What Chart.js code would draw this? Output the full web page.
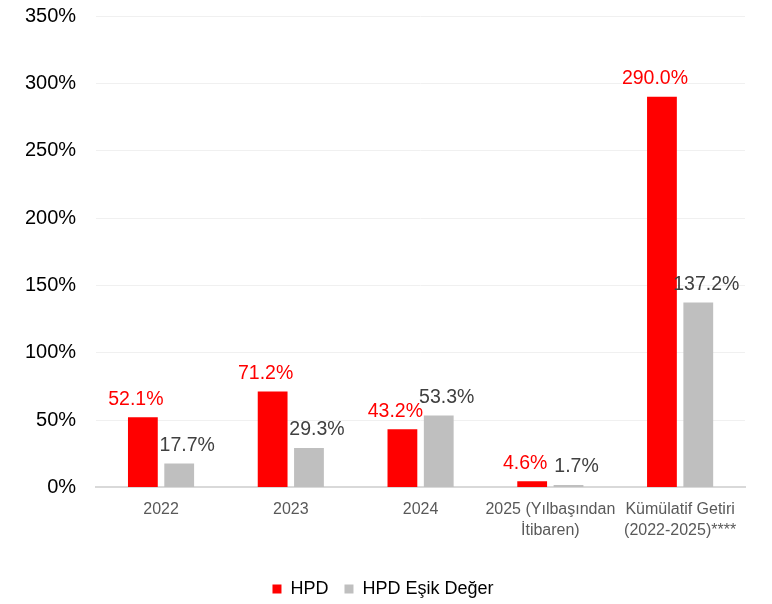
<!DOCTYPE html>
<html lang="tr">
<head>
    <meta charset="UTF-8">
    <title>HPD Getiri</title>
    <script src="https://cdn.jsdelivr.net/npm/chart.js"></script>
    <style>
        body { margin: 0; background: #ffffff; }
        .chart-container { width: 772px; height: 604px; }
    </style>
</head>
<body>
    <div class="chart-container">
        <canvas id="returnChart"></canvas>
    </div>

    <script>
        // Data
        const categories = ['2022', '2023', '2024', ['2025 (Yılbaşından', 'İtibaren)'], ['Kümülatif Getiri', '(2022-2025)****']];
        const hpdValues = [52.1, 71.2, 43.2, 4.6, 290.0];
        const thresholdValues = [17.7, 29.3, 53.3, 1.7, 137.2];

        const fontFamily = '"Liberation Sans", Arial, sans-serif';

        // Draws value labels above each bar, red ones nudged left, grey ones right
        const valueLabels = {
            id: 'valueLabels',
            afterDatasetsDraw(chart) {
                const ctx = chart.ctx;
                ctx.save();
                ctx.font = '19.5px ' + fontFamily;
                ctx.textAlign = 'center';
                ctx.textBaseline = 'middle';
                chart.data.datasets.forEach((ds, i) => {
                    const meta = chart.getDatasetMeta(i);
                    ctx.fillStyle = i === 0 ? '#ff0000' : '#404040';
                    const shift = i === 0 ? -7 : 8;
                    meta.data.forEach((bar, j) => {
                        ctx.fillText(ds.data[j].toFixed(1) + '%', bar.x + shift, bar.y - 18);
                    });
                });
                ctx.restore();
            }
        };

        new Chart(document.getElementById('returnChart'), {
            type: 'bar',
            data: {
                labels: categories,
                datasets: [
                    {
                        label: 'HPD',
                        data: hpdValues,
                        backgroundColor: '#ff0000',
                        barPercentage: 0.82,
                        categoryPercentage: 0.56
                    },
                    {
                        label: 'HPD Eşik Değer',
                        data: thresholdValues,
                        backgroundColor: '#bfbfbf',
                        barPercentage: 0.82,
                        categoryPercentage: 0.56
                    }
                ]
            },
            options: {
                responsive: true,
                maintainAspectRatio: false,
                animation: false,
                layout: { padding: { top: 4, right: 27, left: 21, bottom: -4 } },
                plugins: {
                    legend: {
                        position: 'bottom',
                        labels: {
                            boxWidth: 9,
                            boxHeight: 9,
                            color: '#000000',
                            padding: 16,
                            font: { size: 18, family: fontFamily }
                        }
                    },
                    tooltip: { enabled: false }
                },
                scales: {
                    x: {
                        grid: { display: false },
                        border: { color: '#d9d9d9', width: 2 },
                        afterFit: scale => { scale.height += 19; },
                        ticks: {
                            color: '#595959',
                            padding: 4,
                            maxRotation: 0,
                            autoSkip: false,
                            font: { size: 16, family: fontFamily, lineHeight: 1.3 }
                        }
                    },
                    y: {
                        min: 0,
                        max: 350,
                        grid: { color: '#f0f0f0', drawTicks: true, tickLength: 16, tickColor: 'rgba(0,0,0,0)' },
                        border: { display: false },
                        ticks: {
                            stepSize: 50,
                            padding: 4,
                            color: '#000000',
                            font: { size: 20, family: fontFamily },
                            callback: v => v + '%'
                        }
                    }
                }
            },
            plugins: [valueLabels]
        });
    </script>
</body>
</html>
